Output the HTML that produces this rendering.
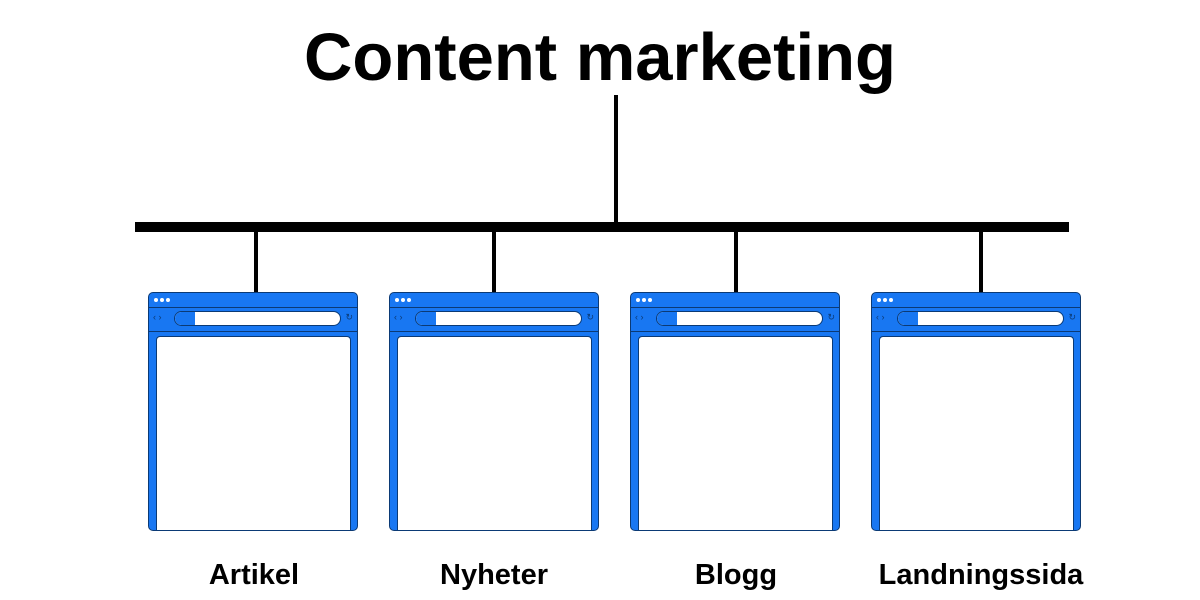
<!DOCTYPE html>
<html><head><style>
body{margin:0;width:1200px;height:600px;background:#fff;position:relative;overflow:hidden;font-family:"Liberation Sans",sans-serif}
.t{position:absolute;left:0;width:1200px;text-align:center;top:19px;font-size:67px;font-weight:bold;color:#000}
.l{position:absolute;background:#000}
.w{position:absolute;top:292px;width:210px;height:239px;background:#1877f2;border:1px solid #0b3a75;border-radius:5px;box-sizing:border-box}
.w .d{position:absolute;left:5px;top:5px;width:4px;height:4px;border-radius:50%;background:#fff}
.w .bar{position:absolute;left:0;right:0;top:14px;height:23px;border-top:1px solid #0b3a75;border-bottom:1px solid #0b3a75}
.w .url{position:absolute;left:25px;right:16px;top:18px;height:13px;border:1px solid #0b3a75;border-radius:8px;background:#fff}
.w .url:before{content:"";position:absolute;left:0;top:0;width:20px;height:13px;background:#1877f2;border-radius:8px 0 0 8px}
.w .c{position:absolute;left:7px;right:6px;top:43px;bottom:0;background:#fff;border:1px solid #0b3a75;border-bottom:none;border-radius:4px 4px 0 0}
.w .a{position:absolute;top:19px;font-size:9px;color:#0b3a75}
.lab{position:absolute;top:559px;font-size:29px;font-weight:bold;text-align:center;width:240px}
</style></head><body>
<div class="t">Content marketing</div>
<div class="l" style="left:614px;top:95px;width:4px;height:130px"></div>
<div class="l" style="left:135px;top:222px;width:934px;height:10px"></div>
<div class="l" style="left:254px;top:230px;width:4px;height:63px"></div>
<div class="l" style="left:492px;top:230px;width:4px;height:63px"></div>
<div class="l" style="left:734px;top:230px;width:4px;height:63px"></div>
<div class="l" style="left:979px;top:230px;width:4px;height:63px"></div>
<div class="w" style="left:148px"><div class="d"></div><div class="d" style="left:11px"></div><div class="d" style="left:17px"></div><div class="bar"></div><span class="a" style="left:4px">‹ ›</span><div class="url"></div><span class="a" style="right:4px">↻</span><div class="c"></div></div>
<div class="w" style="left:389px"><div class="d"></div><div class="d" style="left:11px"></div><div class="d" style="left:17px"></div><div class="bar"></div><span class="a" style="left:4px">‹ ›</span><div class="url"></div><span class="a" style="right:4px">↻</span><div class="c"></div></div>
<div class="w" style="left:630px"><div class="d"></div><div class="d" style="left:11px"></div><div class="d" style="left:17px"></div><div class="bar"></div><span class="a" style="left:4px">‹ ›</span><div class="url"></div><span class="a" style="right:4px">↻</span><div class="c"></div></div>
<div class="w" style="left:871px"><div class="d"></div><div class="d" style="left:11px"></div><div class="d" style="left:17px"></div><div class="bar"></div><span class="a" style="left:4px">‹ ›</span><div class="url"></div><span class="a" style="right:4px">↻</span><div class="c"></div></div>
<div class="lab" style="left:134px">Artikel</div>
<div class="lab" style="left:374px">Nyheter</div>
<div class="lab" style="left:616px">Blogg</div>
<div class="lab" style="left:861px">Landningssida</div>
</body></html>
